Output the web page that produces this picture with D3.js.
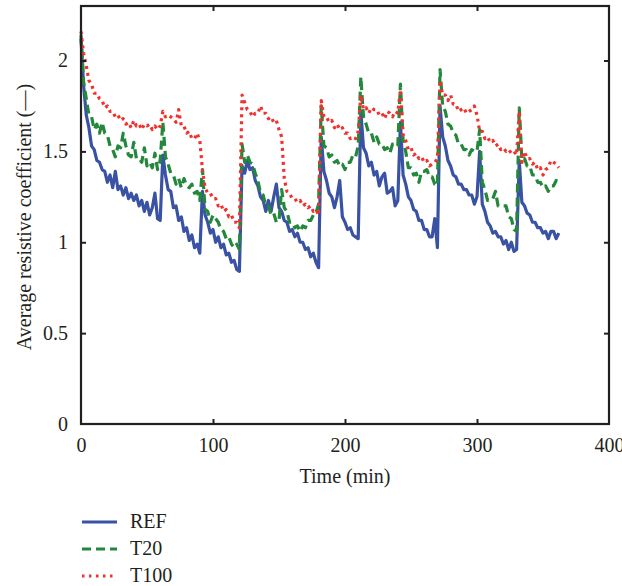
<!DOCTYPE html>
<html>
<head>
<meta charset="utf-8">
<script src="https://cdn.jsdelivr.net/npm/d3@7"></script>
<style>
  html, body { margin: 0; padding: 0; background: #fff; }
  svg { display: block; }
  text { font-family: "Liberation Serif", "Times New Roman", serif; fill: #231f20; }
</style>
</head>
<body>
<svg id="chart" width="622" height="586"></svg>
<script>
// ---- data (time in minutes, 2-min sampling) ----
const timeMin = d3.range(0, 363, 2);

const refValues = [
  2.12,1.86,1.70,1.63,1.53,1.51,1.45,1.44,1.40,1.39,
  1.33,1.37,1.30,1.39,1.29,1.31,1.26,1.30,1.24,1.27,
  1.23,1.26,1.20,1.23,1.17,1.22,1.15,1.19,1.27,1.13,
  1.12,1.48,1.37,1.29,1.28,1.19,1.20,1.12,1.14,1.06,
  1.08,1.01,1.04,0.97,0.99,0.94,1.28,1.15,1.11,1.05,
  1.07,1.00,1.03,0.97,0.99,0.93,0.94,0.89,0.90,0.85,
  0.84,1.42,1.38,1.45,1.40,1.41,1.34,1.31,1.25,1.23,
  1.17,1.23,1.17,1.25,1.32,1.19,1.17,1.12,1.11,1.06,
  1.07,1.03,1.05,1.00,1.00,0.96,0.97,0.92,0.94,0.89,
  0.86,1.58,1.39,1.34,1.27,1.25,1.19,1.25,1.34,1.14,
  1.11,1.07,1.08,1.04,1.03,1.02,1.72,1.52,1.49,1.42,
  1.44,1.37,1.39,1.31,1.36,1.38,1.27,1.28,1.30,1.20,
  1.23,1.66,1.37,1.32,1.25,1.23,1.18,1.17,1.12,1.12,
  1.07,1.07,1.03,1.03,1.13,0.97,1.75,1.58,1.53,1.45,
  1.42,1.37,1.36,1.32,1.32,1.29,1.29,1.26,1.26,1.21,
  1.25,1.50,1.21,1.17,1.11,1.09,1.05,1.06,1.03,1.03,
  0.99,1.01,0.96,1.00,0.95,0.96,1.45,1.22,1.20,1.16,
  1.15,1.11,1.11,1.08,1.08,1.05,1.06,1.02,1.06,1.06,
  1.02,1.05
];

const t20Values = [
  2.14,1.88,1.79,1.70,1.69,1.62,1.65,1.60,1.66,1.60,
  1.59,1.53,1.51,1.47,1.53,1.52,1.60,1.53,1.48,1.47,
  1.55,1.46,1.46,1.44,1.52,1.42,1.44,1.41,1.49,1.40,
  1.45,1.66,1.47,1.43,1.38,1.37,1.32,1.35,1.30,1.35,
  1.31,1.30,1.32,1.27,1.28,1.23,1.40,1.18,1.17,1.11,
  1.15,1.13,1.11,1.07,1.06,1.02,1.03,0.99,0.97,0.99,
  0.96,1.54,1.44,1.48,1.44,1.43,1.38,1.34,1.27,1.26,
  1.20,1.20,1.15,1.16,1.11,1.12,1.29,1.19,1.17,1.11,
  1.11,1.08,1.09,1.06,1.09,1.08,1.12,1.12,1.15,1.16,
  1.21,1.75,1.53,1.52,1.47,1.48,1.44,1.45,1.42,1.43,
  1.40,1.44,1.44,1.48,1.47,1.53,1.91,1.69,1.65,1.60,
  1.60,1.55,1.58,1.54,1.54,1.51,1.52,1.49,1.54,1.53,
  1.53,1.87,1.56,1.50,1.41,1.41,1.37,1.38,1.33,1.39,
  1.39,1.40,1.36,1.36,1.32,1.31,1.95,1.75,1.72,1.65,
  1.64,1.60,1.59,1.54,1.54,1.51,1.51,1.48,1.51,1.50,
  1.50,1.62,1.33,1.29,1.23,1.24,1.24,1.28,1.20,1.20,
  1.20,1.20,1.14,1.13,1.07,1.06,1.74,1.45,1.46,1.42,
  1.42,1.37,1.37,1.33,1.33,1.30,1.31,1.28,1.31,1.31,
  1.34,1.33
];

const t100Values = [
  2.16,2.04,1.97,1.89,1.87,1.82,1.82,1.79,1.78,1.74,
  1.75,1.72,1.72,1.69,1.70,1.67,1.68,1.65,1.66,1.63,
  1.67,1.64,1.65,1.62,1.65,1.64,1.65,1.62,1.64,1.62,
  1.64,1.72,1.69,1.70,1.69,1.68,1.66,1.73,1.64,1.64,
  1.60,1.61,1.57,1.57,1.60,1.56,1.40,1.30,1.27,1.27,
  1.24,1.24,1.20,1.21,1.17,1.18,1.14,1.15,1.11,1.11,
  1.08,1.81,1.77,1.73,1.72,1.69,1.71,1.71,1.75,1.71,
  1.71,1.68,1.69,1.66,1.67,1.62,1.58,1.35,1.28,1.27,
  1.24,1.24,1.22,1.23,1.20,1.21,1.19,1.20,1.17,1.18,
  1.15,1.78,1.69,1.69,1.66,1.67,1.63,1.65,1.62,1.63,
  1.60,1.60,1.57,1.58,1.57,1.61,1.81,1.73,1.74,1.71,
  1.74,1.73,1.73,1.70,1.71,1.68,1.72,1.71,1.69,1.72,
  1.71,1.84,1.59,1.56,1.51,1.52,1.48,1.49,1.46,1.47,
  1.44,1.45,1.42,1.43,1.44,1.46,1.89,1.81,1.81,1.78,
  1.81,1.76,1.76,1.72,1.73,1.74,1.71,1.72,1.73,1.75,
  1.70,1.61,1.61,1.57,1.58,1.55,1.56,1.53,1.54,1.51,
  1.52,1.50,1.51,1.49,1.50,1.48,1.72,1.44,1.50,1.46,
  1.46,1.43,1.44,1.40,1.41,1.37,1.40,1.41,1.45,1.44,
  1.43,1.41
];

const seriesNames = ["REF", "T20", "T100"];
const seriesColors = ["#3a52a3", "#23873c", "#f0322f"];
const seriesDash = [null, "9,5", "3,4"];
const xTicks = [0, 100, 200, 300, 400];
const yTicks = [0, 0.5, 1, 1.5, 2];
const xLabel = "Time (min)";
const yLabel = "Average resistive coefficient (\u2014)";

// ---- drawing ----
const svg = d3.select("#chart");
const mLeft = 81, mRight = 609, mTop = 6, mBottom = 424;
const x = d3.scaleLinear().domain([0, 400]).range([mLeft, mRight]);
const y = d3.scaleLinear().domain([0, 2.3]).range([mBottom, mTop]);

const allSeries = [refValues, t20Values, t100Values];

const line = d3.line()
  .x((d, i) => x(timeMin[i]))
  .y(d => y(d));

const plot = svg.append("g");
allSeries.forEach((vals, k) => {
  plot.append("path")
    .datum(vals)
    .attr("d", line)
    .attr("fill", "none")
    .attr("stroke", seriesColors[k])
    .attr("stroke-width", 3.2)
    .attr("stroke-linejoin", "round")
    .attr("stroke-dasharray", seriesDash[k]);
});

// axes (inward ticks, mirrored)
const axColor = "#231f20";
const fontSize = 20;
const gB = svg.append("g").attr("transform", `translate(0,${mBottom})`)
  .call(d3.axisBottom(x).tickValues(xTicks).tickSizeInner(-5).tickSizeOuter(0).tickPadding(14).tickFormat(d3.format("d")));
const gT = svg.append("g").attr("transform", `translate(0,${mTop})`)
  .call(d3.axisTop(x).tickValues(xTicks).tickSizeInner(-5).tickSizeOuter(0).tickFormat(""));
const gL = svg.append("g").attr("transform", `translate(${mLeft},0)`)
  .call(d3.axisLeft(y).tickValues(yTicks).tickSizeInner(-5).tickSizeOuter(0).tickPadding(13).tickFormat(d => d));
const gR = svg.append("g").attr("transform", `translate(${mRight},0)`)
  .call(d3.axisRight(y).tickValues(yTicks).tickSizeInner(-5).tickSizeOuter(0).tickFormat(""));

[gB, gT, gL, gR].forEach(g => {
  g.select(".domain").remove();
  g.selectAll(".tick line").attr("stroke", axColor).attr("stroke-width", 2);
  g.selectAll(".tick text").attr("font-size", fontSize)
    .attr("font-family", "Liberation Serif, serif").attr("fill", axColor);
});
gB.selectAll(".tick").filter(d => d === 0 || d === 400).select("line").remove();
gT.selectAll(".tick").filter(d => d === 0 || d === 400).remove();
gL.selectAll(".tick").filter(d => d === 0).select("line").remove();
gR.selectAll(".tick").filter(d => d === 0).remove();

svg.append("rect")
  .attr("x", mLeft).attr("y", mTop)
  .attr("width", mRight - mLeft).attr("height", mBottom - mTop)
  .attr("fill", "none").attr("stroke", axColor).attr("stroke-width", 2.2);

svg.append("text")
  .attr("x", (mLeft + mRight) / 2).attr("y", 483)
  .attr("text-anchor", "middle").attr("font-size", fontSize)
  .text(xLabel);

svg.append("text")
  .attr("transform", `translate(31,217) rotate(-90)`)
  .attr("text-anchor", "middle").attr("font-size", fontSize)
  .text(yLabel);

// legend
const legY = [522, 549, 576];
seriesNames.forEach((name, k) => {
  svg.append("line")
    .attr("x1", 82).attr("x2", 117)
    .attr("y1", legY[k]).attr("y2", legY[k])
    .attr("stroke", seriesColors[k]).attr("stroke-width", 3)
    .attr("stroke-dasharray", k === 2 ? "2.5,4.5" : seriesDash[k]);
  svg.append("text")
    .attr("x", 130).attr("y", legY[k] + 6)
    .attr("font-size", fontSize)
    .text(name);
});
</script>
</body>
</html>
